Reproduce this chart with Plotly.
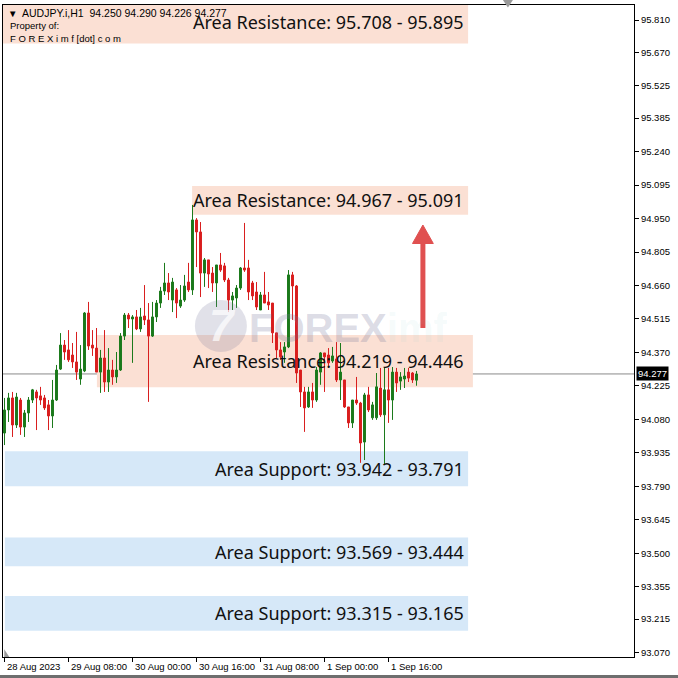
import plotly.graph_objects as go

# ---------------- data ----------------
bar_index = list(range(104))
opens = [94.021, 94.121, 94.173, 94.056, 94.164, 94.047, 94.108, 94.164, 94.199, 94.182,
         94.173, 94.143, 94.095, 94.164, 94.298, 94.402, 94.381, 94.359, 94.329, 94.255,
         94.290, 94.541, 94.402, 94.389, 94.285, 94.346, 94.242, 94.294, 94.264, 94.294,
         94.441, 94.532, 94.515, 94.524, 94.472, 94.528, 94.511, 94.441, 94.524, 94.584,
         94.636, 94.671, 94.597, 94.641, 94.571, 94.597, 94.675, 94.641, 94.944, 94.892,
         94.714, 94.771, 94.714, 94.671, 94.749, 94.745, 94.684, 94.597, 94.606, 94.649,
         94.736, 94.736, 94.671, 94.632, 94.554, 94.619, 94.589, 94.584, 94.455, 94.381,
         94.372, 94.394, 94.706, 94.658, 94.294, 94.199, 94.134, 94.199, 94.164, 94.285,
         94.368, 94.359, 94.333, 94.342, 94.251, 94.251, 94.134, 94.065, 94.164, 94.151,
         93.982, 94.186, 94.087, 94.087, 94.216, 94.100, 94.208, 94.164, 94.285, 94.246,
         94.255, 94.285, 94.281, 94.250]
highs = [94.173, 94.195, 94.199, 94.195, 94.173, 94.121, 94.177, 94.212, 94.208, 94.221,
         94.186, 94.164, 94.251, 94.316, 94.454, 94.424, 94.467, 94.411, 94.459, 94.402,
         94.545, 94.589, 94.467, 94.476, 94.381, 94.467, 94.389, 94.338, 94.372, 94.454,
         94.541, 94.541, 94.532, 94.554, 94.563, 94.662, 94.584, 94.589, 94.597, 94.654,
         94.758, 94.714, 94.693, 94.649, 94.662, 94.706, 94.758, 95.009, 94.952, 94.935,
         94.779, 94.771, 94.740, 94.749, 94.801, 94.758, 94.693, 94.632, 94.662, 94.740,
         94.931, 94.771, 94.680, 94.675, 94.632, 94.719, 94.632, 94.584, 94.455, 94.415,
         94.415, 94.727, 94.719, 94.662, 94.294, 94.221, 94.221, 94.238, 94.307, 94.372,
         94.368, 94.389, 94.394, 94.415, 94.411, 94.251, 94.134, 94.164, 94.264, 94.156,
         94.195, 94.221, 94.156, 94.281, 94.303, 94.303, 94.303, 94.307, 94.303, 94.285,
         94.303, 94.303, 94.285, 94.290]
lows = [93.969, 94.069, 94.004, 94.043, 94.013, 94.004, 94.069, 94.151, 94.034, 94.143,
        94.121, 94.034, 94.043, 94.160, 94.294, 94.338, 94.329, 94.303, 94.251, 94.230,
        94.285, 94.381, 94.355, 94.285, 94.195, 94.199, 94.199, 94.230, 94.238, 94.290,
        94.424, 94.476, 94.325, 94.467, 94.459, 94.489, 94.156, 94.437, 94.502, 94.563,
        94.619, 94.597, 94.545, 94.519, 94.563, 94.589, 94.632, 94.619, 94.740, 94.610,
        94.654, 94.649, 94.632, 94.567, 94.719, 94.675, 94.545, 94.554, 94.563, 94.641,
        94.719, 94.597, 94.597, 94.554, 94.554, 94.584, 94.554, 94.411, 94.346, 94.338,
        94.325, 94.389, 94.511, 94.238, 94.134, 94.026, 94.130, 94.130, 94.156, 94.230,
        94.199, 94.312, 94.325, 94.242, 94.164, 94.130, 94.043, 94.043, 94.143, 93.892,
        93.904, 94.112, 94.078, 94.078, 94.091, 93.883, 94.065, 94.078, 94.199, 94.208,
        94.216, 94.242, 94.238, 94.226]
closes = [94.121, 94.173, 94.056, 94.177, 94.047, 94.108, 94.164, 94.208, 94.173, 94.164,
          94.130, 94.095, 94.164, 94.294, 94.402, 94.372, 94.338, 94.329, 94.285, 94.298,
          94.541, 94.398, 94.389, 94.285, 94.346, 94.242, 94.294, 94.264, 94.294, 94.441,
          94.532, 94.515, 94.524, 94.472, 94.524, 94.511, 94.441, 94.524, 94.584, 94.636,
          94.671, 94.632, 94.675, 94.584, 94.597, 94.658, 94.641, 94.944, 94.892, 94.714,
          94.771, 94.710, 94.671, 94.749, 94.727, 94.684, 94.597, 94.615, 94.649, 94.736,
          94.727, 94.632, 94.615, 94.567, 94.619, 94.584, 94.576, 94.455, 94.381, 94.351,
          94.394, 94.706, 94.658, 94.281, 94.199, 94.130, 94.199, 94.164, 94.294, 94.368,
          94.351, 94.325, 94.355, 94.251, 94.285, 94.134, 94.065, 94.164, 94.151, 93.978,
          94.186, 94.121, 94.143, 94.221, 94.100, 94.208, 94.164, 94.285, 94.238, 94.264,
          94.268, 94.259, 94.251, 94.277]

last_price = 94.277
header_ohlc = ["94.250", "94.290", "94.226", "94.277"]

time_tick_bars = [0, 16, 32, 48, 64, 80, 96]
time_tick_labels = ["28 Aug 2023", "29 Aug 08:00", "30 Aug 00:00", "30 Aug 16:00",
                    "31 Aug 08:00", "1 Sep 00:00", "1 Sep 16:00"]

price_ticks = [95.810, 95.670, 95.525, 95.385, 95.240, 95.095, 94.950, 94.805, 94.660,
               94.515, 94.370, 94.225, 94.080, 93.935, 93.790, 93.645, 93.500, 93.355,
               93.215, 93.070]

resistance_low = [95.708, 94.967, 94.219]
resistance_high = [95.895, 95.091, 94.446]
support_high = [93.942, 93.569, 93.315]
support_low = [93.791, 93.444, 93.165]

arrow_from = 94.476
arrow_to = 94.922

# ---------------- figure ----------------
XMIN, XMAX = -0.375, 157.375
YMIN, YMAX = 93.051, 95.875

RES_FILL = "#FBE0D4"
SUP_FILL = "#D6E8F8"
ZFONT = dict(family="Noto Sans", size=18, color="#111111")
SFONT = dict(family="Liberation Sans", size=9.5, color="#000000")
HFONT = dict(family="Liberation Sans", size=10.5, color="#000000")

fig = go.Figure()

fig.add_trace(go.Candlestick(
    x=bar_index, open=opens, high=highs, low=lows, close=closes,
    increasing=dict(line=dict(color="#1C7A1C", width=1), fillcolor="#1C7A1C"),
    decreasing=dict(line=dict(color="#D91F1F", width=1), fillcolor="#D91F1F"),
    whiskerwidth=0, showlegend=False, hoverinfo="skip",
))

shapes = []
annotations = []

# zone boxes (x extents in bar units)
res_x0 = [XMIN, 46.9, 23.1]
res_x1 = [115.9, 115.9, 117.1]
for lo, hi, a, b in zip(resistance_low, resistance_high, res_x0, res_x1):
    shapes.append(dict(type="rect", xref="x", yref="y", x0=a, x1=b, y0=lo, y1=hi,
                       fillcolor=RES_FILL, line=dict(width=0), layer="below"))
    annotations.append(dict(xref="x", yref="y", x=115.4, y=(lo + hi) / 2,
                            xanchor="right", yanchor="middle", showarrow=False,
                            text=f"Area Resistance: {lo:.3f} - {hi:.3f}", font=ZFONT))
for hi, lo in zip(support_high, support_low):
    shapes.append(dict(type="rect", xref="x", yref="y", x0=0.1, x1=115.9, y0=lo, y1=hi,
                       fillcolor=SUP_FILL, line=dict(width=0), layer="below"))
    annotations.append(dict(xref="x", yref="y", x=115.4, y=(lo + hi) / 2,
                            xanchor="right", yanchor="middle", showarrow=False,
                            text=f"Area Support: {hi:.3f} - {lo:.3f}", font=ZFONT))

# current price line
shapes.append(dict(type="line", xref="paper", yref="y", x0=0, x1=1, y0=last_price, y1=last_price,
                   line=dict(color="#8A8A8A", width=1), layer="below"))
annotations.append(dict(xref="paper", yref="y", x=1, y=last_price, xanchor="left", yanchor="middle",
                        xshift=2, showarrow=False, text=f"{last_price:.3f}", bgcolor="#000000",
                        borderpad=1, font=dict(family="Liberation Sans", size=9.5, color="#FFFFFF")))

# watermark logo
shapes.append(dict(type="circle", xref="x", yref="y", xsizemode="pixel", ysizemode="pixel",
                   xanchor=54.1, yanchor=94.485, x0=-26, x1=26, y0=-26, y1=26,
                   fillcolor="rgba(120,120,155,0.22)", line=dict(width=0), layer="above"))
annotations.append(dict(xref="x", yref="y", x=54.6, y=94.485, showarrow=False,
                        text="<b><i>7</i></b>", font=dict(family="Liberation Sans", size=44,
                                                          color="rgba(255,255,255,0.7)")))
annotations.append(dict(xref="x", yref="y", x=85.8, y=94.475, showarrow=False, xanchor="center",
                        yanchor="middle",
                        text="<b>FOREX<span style='color:rgba(120,195,205,0.3)'>imf</span></b>",
                        font=dict(family="Liberation Sans", size=40, color="rgba(120,120,155,0.26)")))

# red arrow
AX = 104.6
shapes.append(dict(type="line", xref="x", yref="y", x0=AX, x1=AX, y0=arrow_from, y1=arrow_to - 0.075,
                   line=dict(color="#E05050", width=5)))
shapes.append(dict(type="path", xref="x", yref="y",
                   path=f"M {AX-2.6},{arrow_to-0.08} L {AX+2.6},{arrow_to-0.08} L {AX},{arrow_to} Z",
                   fillcolor="#E05050", line=dict(color="#E05050", width=1)))

# chart shift marker at top and small corner triangle
shapes.append(dict(type="path", xref="x", yref="paper",
                   path="M 124.6,1.0077 L 127.1,1.0077 L 125.85,0.996 Z",
                   fillcolor="#9A9A9A", line=dict(width=0)))
shapes.append(dict(type="path", xref="paper", yref="paper",
                   path="M 0.002,0.0 L 0.002,0.012 L 0.010,0.0 Z",
                   fillcolor="#9A9A9A", line=dict(width=0)))
# window border bottom
shapes.append(dict(type="rect", xref="paper", yref="paper", x0=-0.01, x1=1.08,
                   y0=-0.0322, y1=-0.0276, fillcolor="#6E6E6E", line=dict(width=0)))

# header text
annotations.append(dict(xref="paper", yref="paper", x=0, y=1, xanchor="left", yanchor="middle",
                        xshift=3, yshift=-8, showarrow=False, text="▼", font=SFONT))
annotations.append(dict(xref="paper", yref="paper", x=0, y=1, xanchor="left", yanchor="middle",
                        xshift=17, yshift=-8, showarrow=False, align="left",
                        text="AUDJPY.i,H1&nbsp;&nbsp;" + " ".join(header_ohlc), font=HFONT))
annotations.append(dict(xref="paper", yref="paper", x=0, y=1, xanchor="left", yanchor="middle",
                        xshift=5, yshift=-20, showarrow=False, text="Property of:", font=SFONT))
annotations.append(dict(xref="paper", yref="paper", x=0, y=1, xanchor="left", yanchor="middle",
                        xshift=5, yshift=-33, showarrow=False, text="F O R E X i m f [dot] c o m",
                        font=SFONT))

# time labels (left aligned after tick marks like MT4)
for b, lab in zip(time_tick_bars, time_tick_labels):
    annotations.append(dict(xref="x", yref="paper", x=b, y=0, xanchor="left", yanchor="middle",
                            xshift=0, yshift=-9, showarrow=False, text=lab, font=SFONT))

fig.update_layout(
    width=678, height=678,
    margin=dict(l=3, r=44, t=5, b=21),
    paper_bgcolor="#FFFFFF", plot_bgcolor="#FFFFFF",
    shapes=shapes, annotations=annotations,
    xaxis=dict(range=[XMIN, XMAX], rangeslider=dict(visible=False), showgrid=False, zeroline=False,
               tickvals=time_tick_bars, showticklabels=False, ticks="outside", ticklen=4,
               tickcolor="#000000", showline=True, linecolor="#000000", linewidth=1, mirror=True,
               fixedrange=True),
    yaxis=dict(range=[YMIN, YMAX], side="right", showgrid=False, zeroline=False,
               tickvals=price_ticks, ticktext=[f"{v:.3f}" for v in price_ticks],
               ticks="outside", ticklen=4, tickcolor="#000000", tickfont=SFONT,
               showline=True, linecolor="#000000", linewidth=1, mirror=True, fixedrange=True),
    showlegend=False,
)

fig.write_html("out.html", config={"displayModeBar": False},
               post_script="document.body.style.margin='0px';document.body.style.overflow='hidden';")
